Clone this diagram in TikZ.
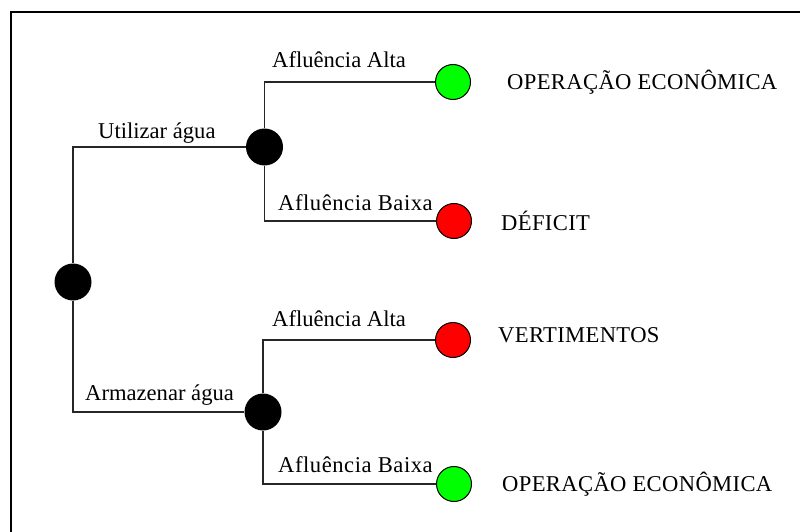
\documentclass[tikz,border=0pt]{standalone}
\usepackage{fontspec}
\setmainfont{Liberation Serif}
\definecolor{endgreen}{RGB}{0,255,0}
\definecolor{endred}{RGB}{255,0,0}
\begin{document}
\begin{tikzpicture}[x=1pt,y=-1pt,
  every node/.style={font=\fontsize{22.6}{27}\selectfont},
  dec/.style={circle,fill=black,minimum size=37pt,inner sep=0pt},
  okend/.style={circle,draw=black,line width=1pt,fill=endgreen,minimum size=35pt,inner sep=0pt},
  badend/.style={circle,draw=black,line width=1pt,fill=endred,minimum size=35pt,inner sep=0pt},
  conn/.style={draw=black!85,line width=1.1pt},
  lbl/.style={anchor=base west,inner sep=0pt,text=black},
  caps/.style={lbl,font=\fontsize{22.6}{27}\selectfont\addfontfeature{LetterSpace=1.6}},
  wide/.style={lbl,font=\fontsize{22.6}{27}\selectfont\addfontfeature{LetterSpace=2.4}}
]
\useasboundingbox (0,0) rectangle (800,532);
\draw[line width=2pt] (11,533) -- (11,12) -- (801,12);

\node[dec] (root) at (73,282) {};
\node[dec] (u) at (264.5,147) {};
\node[dec] (l) at (263,412) {};
\node[okend] (g1) at (453,82) {};
\node[badend] (r1) at (454,221) {};
\node[badend] (r2) at (453,340) {};
\node[okend] (g2) at (454,484) {};

\draw[conn] (root) |- (u);
\draw[conn] (root) |- (l);
\draw[conn] (u) |- (g1);
\draw[conn] (u) |- (r1);
\draw[conn] (l) |- (r2);
\draw[conn] (l) |- (g2);

\node[lbl] (t1) at (98,139) {Utilizar água};
\node[lbl] (t2) at (85,400) {Armazenar água};
\node[lbl] (t3) at (272,67.3) {Afluência Alta};
\node[lbl] (t4) at (272,326.7) {Afluência Alta};
\node[wide] (t5) at (278,210) {Afluência Baixa};
\node[wide] (t6) at (278,472.3) {Afluência Baixa};
\node[caps] (o1) at (507,90) {OPERAÇÃO ECONÔMICA};
\node[caps] (o2) at (501,230) {DÉFICIT};
\node[caps] (o3) at (498,342.7) {VERTIMENTOS};
\node[caps] (o4) at (502,491.7) {OPERAÇÃO ECONÔMICA};
\end{tikzpicture}
\end{document}
